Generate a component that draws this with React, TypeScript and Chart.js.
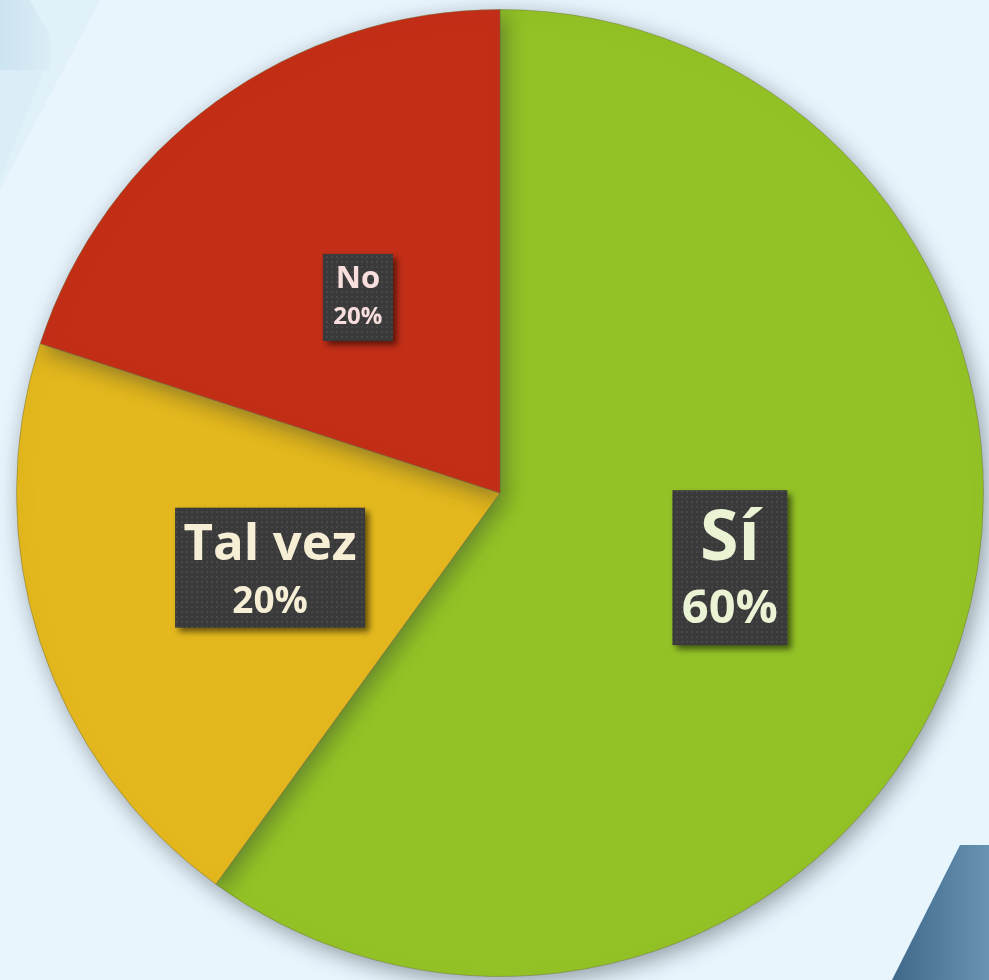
import React, { useEffect, useRef } from "react";
import { Chart, registerables } from "chart.js";

Chart.register(...registerables);

// ---- data ----
const categories = ["Sí", "Tal vez", "No"];
const values = [60, 20, 20];
const percentLabels = ["60%", "20%", "20%"];

// ---- styles ----
const sliceColors = ["#93c226", "#e3b71d", "#c32e17"];
const labelTextColors = ["#eaf3d4", "#f6efd6", "#f8dfde"];
// box size and font sizes / vertical offsets for the two lines of each label
const labelBoxes = [
  { w: 115, h: 155, f1: 70, o1: -28, f2: 47, o2: 42 },
  { w: 190, h: 120, f1: 51, o1: -22, f2: 37, o2: 35 },
  { w: 70, h: 87, f1: 31, o1: -18, f2: 24, o2: 20 },
];
const FONT = "'Open Sans', Lato, sans-serif";

function makePattern(ctx: CanvasRenderingContext2D) {
  const c = document.createElement("canvas");
  c.width = 5;
  c.height = 5;
  const p = c.getContext("2d")!;
  p.fillStyle = "#3a3a3b";
  p.fillRect(0, 0, 5, 5);
  p.fillStyle = "#48484a";
  p.fillRect(1, 1, 2, 2);
  return ctx.createPattern(c, "repeat");
}

const backgroundPlugin = {
  id: "bgDeco",
  beforeDraw(chart: any) {
    const { ctx, width, height } = chart;
    ctx.save();
    ctx.fillStyle = "#e9f5fd";
    ctx.fillRect(0, 0, width, height);
    // top-left faint facets
    ctx.fillStyle = "#e1f1fa";
    ctx.beginPath();
    ctx.moveTo(0, 0);
    ctx.lineTo(100, 0);
    ctx.lineTo(0, 190);
    ctx.closePath();
    ctx.fill();
    const g1 = ctx.createLinearGradient(0, 0, 50, 0);
    g1.addColorStop(0, "#cce3f0");
    g1.addColorStop(1, "#dbedf7");
    ctx.fillStyle = g1;
    ctx.beginPath();
    ctx.moveTo(0, 0);
    ctx.lineTo(30, 0);
    ctx.lineTo(50, 36);
    ctx.lineTo(50, 70);
    ctx.lineTo(0, 70);
    ctx.closePath();
    ctx.fill();
    ctx.fillStyle = "#dbedf7";
    ctx.beginPath();
    ctx.moveTo(0, 70);
    ctx.lineTo(44, 70);
    ctx.lineTo(0, 180);
    ctx.closePath();
    ctx.fill();
    // bottom-right dark shape
    const g = ctx.createLinearGradient(892, 0, 989, 0);
    g.addColorStop(0, "#3f6889");
    g.addColorStop(1, "#6893b5");
    ctx.fillStyle = g;
    ctx.beginPath();
    ctx.moveTo(960, 845);
    ctx.lineTo(989, 845);
    ctx.lineTo(989, 980);
    ctx.lineTo(892, 980);
    ctx.closePath();
    ctx.fill();
    ctx.restore();
  },
  beforeDatasetsDraw(chart: any) {
    const ctx = chart.ctx;
    ctx.save();
    ctx.shadowColor = "rgba(40,50,60,0.45)";
    ctx.shadowBlur = 22;
    ctx.shadowOffsetX = 4;
    ctx.shadowOffsetY = 6;
  },
  afterDatasetsDraw(chart: any) {
    chart.ctx.restore();
  },
};

const labelPlugin = {
  id: "boxLabels",
  afterDraw(chart: any) {
    const { ctx } = chart;
    const meta = chart.getDatasetMeta(0);
    const pattern = makePattern(ctx);
    meta.data.forEach((arc: any, i: number) => {
      const { x, y, startAngle, endAngle, outerRadius } = arc.getProps(
        ["x", "y", "startAngle", "endAngle", "outerRadius"],
        true
      );
      const mid = (startAngle + endAngle) / 2;
      const cx = x + Math.cos(mid) * outerRadius * 0.5;
      const cy = y + Math.sin(mid) * outerRadius * 0.5;
      const b = labelBoxes[i];
      ctx.save();
      ctx.shadowColor = "rgba(0,0,0,0.55)";
      ctx.shadowBlur = 6;
      ctx.shadowOffsetX = 4;
      ctx.shadowOffsetY = 4;
      ctx.fillStyle = pattern || "#3a3a3b";
      ctx.fillRect(cx - b.w / 2, cy - b.h / 2, b.w, b.h);
      ctx.restore();
      ctx.save();
      ctx.fillStyle = labelTextColors[i];
      ctx.textAlign = "center";
      ctx.textBaseline = "middle";
      ctx.font = `bold ${b.f1}px ${FONT}`;
      ctx.fillText(categories[i], cx, cy + b.o1);
      ctx.font = `bold ${b.f2}px ${FONT}`;
      ctx.fillText(percentLabels[i], cx, cy + b.o2);
      ctx.restore();
    });
  },
};

export default function App() {
  const ref = useRef<HTMLCanvasElement>(null);
  useEffect(() => {
    document.body.style.margin = "0";
    const chart = new Chart(ref.current!, {
      type: "pie",
      data: {
        labels: categories,
        datasets: [
          {
            data: values,
            backgroundColor: sliceColors,
            borderColor: "rgba(110,110,60,0.45)",
            borderWidth: 1,
            hoverOffset: 0,
          },
        ],
      },
      options: {
        responsive: false,
        animation: false,
        events: [],
        layout: { padding: { left: 14, right: 3, top: 9, bottom: 3 } },
        plugins: {
          legend: { display: false },
          tooltip: { enabled: false },
        },
      },
      plugins: [backgroundPlugin, labelPlugin],
    });
    return () => chart.destroy();
  }, []);
  return (
    <div style={{ position: "absolute", left: 0, top: 0, width: 989, height: 980 }}>
      <canvas ref={ref} width={989} height={980} />
    </div>
  );
}
